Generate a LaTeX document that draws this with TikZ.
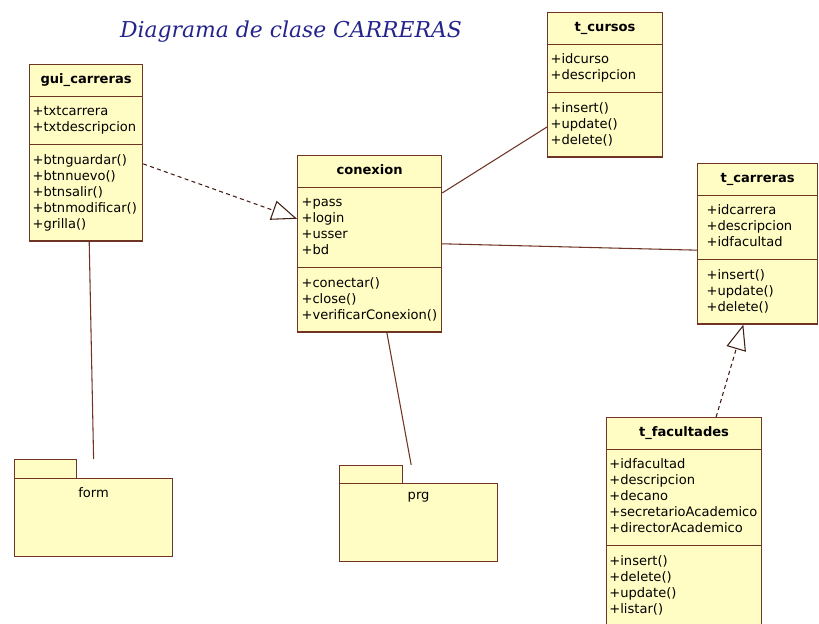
\documentclass[tikz,border=0pt]{standalone}
\usepackage{fontspec}
\setmainfont{DejaVu Sans}
\newfontfamily\titlefont{DejaVu Serif}
\usetikzlibrary{arrows.meta,calc,shapes.multipart}
\definecolor{umlfill}{RGB}{255,252,196}
\definecolor{umlline}{RGB}{112,52,36}
\definecolor{titleblue}{RGB}{36,36,140}
\newcommand{\clsname}[1]{\makebox[\hsize][c]{\strut\textbf{#1}}}
\tikzset{
	umlclass/.style={
			rectangle split, rectangle split parts=3,
			draw=umlline, fill=umlfill, line width=0.9pt,
			font=\fontsize{9.8pt}{12pt}\selectfont,
			align=left, inner ysep=5.6pt, anchor=north west
		},
	umlpkg/.style={draw=umlline, fill=umlfill, line width=0.9pt, inner sep=0pt, anchor=north west},
	pkgname/.style={anchor=north, inner sep=0pt, yshift=-7pt, font=\fontsize{9.8pt}{12pt}\selectfont},
	assoc/.style={draw=umlline, line width=0.8pt},
	realize/.style={
			draw=umlline!60!black, line width=0.8pt, dash pattern=on 3pt off 2.5pt,
			-{Triangle[open, length=19pt, width=15pt]}
		}
}

\begin{document}
\begin{tikzpicture}[x=0.75pt, y=-0.75pt]
		\useasboundingbox (0, 0) rectangle (819, 624);
		\node [titleblue, font=\titlefont\itshape\fontsize{16.4pt}{18pt}\selectfont] (title) at (291, 32) {Diagrama de clase CARRERAS};

		\node [umlclass, text width=80.25pt, inner xsep=2.25pt] (gui) at (29, 64)
			{\clsname{gui\_carreras}
			\nodepart{two}\strut+txtcarrera\\+txtdescripcion\strut
			\nodepart{three}\strut+btnguardar()\\+btnnuevo()\\+btnsalir()\\+btnmodificar()\\+grilla()\strut\par\vspace{10.5pt}};
		\node [umlclass, text width=102pt, inner xsep=3pt] (conexion) at (297, 155)
			{\clsname{conexion}
			\nodepart{two}\strut+pass\\+login\\+usser\\+bd\strut
			\nodepart{three}\strut+conectar()\\+close()\\+verificarConexion()\strut};
		\node [umlclass, text width=81.75pt, inner xsep=2.25pt] (tcur) at (547, 12)
			{\clsname{t\_cursos}
			\nodepart{two}\strut+idcurso\\+descripcion\strut
			\nodepart{three}\strut+insert()\\+update()\\+delete()\strut};
		\node [umlclass, text width=76.5pt, inner xsep=6.75pt] (tcar) at (697, 163)
			{\clsname{t\_carreras}
			\nodepart{two}\strut+idcarrera\\+descripcion\\+idfacultad\strut
			\nodepart{three}\strut+insert()\\+update()\\+delete()\strut};
		\node [umlclass, text width=112pt, inner xsep=2.1pt] (tfac) at (606, 417)
			{\clsname{t\_facultades}
			\nodepart{two}\strut+idfacultad\\+descripcion\\+decano\\+secretarioAcademico\\+directorAcademico\strut
			\nodepart{three}\strut+insert()\\+delete()\\+update()\\+listar()\strut};

		\node [umlpkg, minimum width=46.5pt, minimum height=14.25pt] (formtab) at (14, 459) {};
		\node [umlpkg, minimum width=118.5pt, minimum height=58.5pt, label={[pkgname]north:form}] (form) at (14, 478) {};
		\node [umlpkg, minimum width=47.25pt, minimum height=13.5pt] (prgtab) at (339, 465) {};
		\node [umlpkg, minimum width=118.5pt, minimum height=58.5pt, label={[pkgname]north:prg}] (prg) at (339, 483) {};

		\draw [assoc] (gui.-88) -- (form.north |- formtab.north);
		\draw [realize] (gui.-11) -- (conexion.161);
		\draw [assoc] (conexion.35) -- (tcur.216);
		\draw [assoc] (conexion.east) -- (tcar.186);
		\draw [assoc] (conexion.-79) -- ($(prgtab.north east)+(8, 0)$);
		\draw [realize] (tfac.73) -- (tcar.260);
	\end{tikzpicture}
\end{document}
